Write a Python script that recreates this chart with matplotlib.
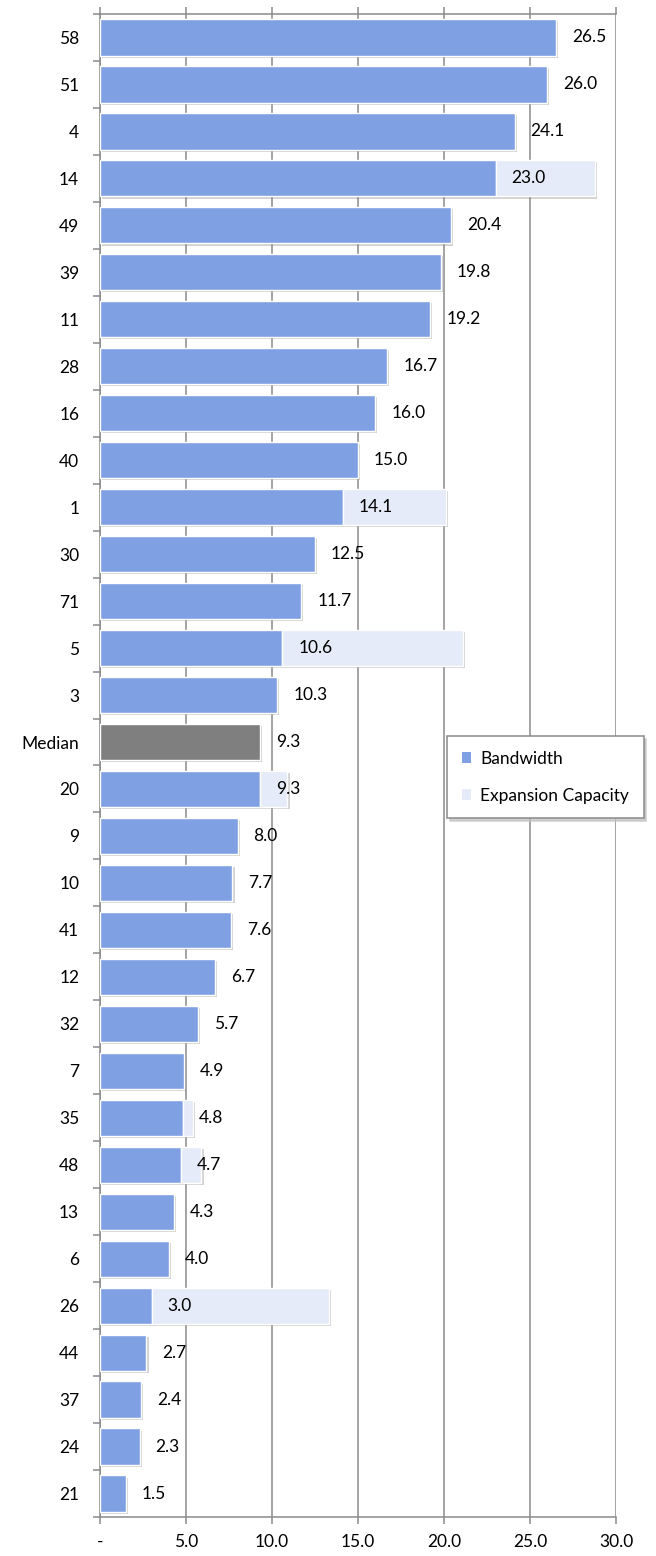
import matplotlib
matplotlib.use("Agg")
import matplotlib.pyplot as plt
import matplotlib.patheffects as pe
from matplotlib.patches import Patch
import numpy as np

categories = ["58", "51", "4", "14", "49", "39", "11", "28", "16", "40", "1", "30",
              "71", "5", "3", "Median", "20", "9", "10", "41", "12", "32", "7", "35",
              "48", "13", "6", "26", "44", "37", "24", "21"]
bandwidth = [26.5, 26.0, 24.1, 23.0, 20.4, 19.8, 19.2, 16.7, 16.0, 15.0, 14.1, 12.5,
             11.7, 10.6, 10.3, 9.3, 9.3, 8.0, 7.7, 7.6, 6.7, 5.7, 4.9, 4.8,
             4.7, 4.3, 4.0, 3.0, 2.7, 2.4, 2.3, 1.5]
expansion = [0, 0, 0, 5.8, 0, 0, 0, 0, 0, 0, 6.0, 0,
             0, 10.5, 0, 0, 1.6, 0, 0, 0, 0, 0, 0, 0.6,
             1.2, 0, 0, 10.3, 0, 0, 0, 0]
xticks = [0, 5, 10, 15, 20, 25, 30]
xticklabels = ["-", "5.0", "10.0", "15.0", "20.0", "25.0", "30.0"]

plt.rcParams['font.family'] = ['Lato', 'DejaVu Sans']

BLUE = "#7FA1E3"
LIGHT = "#E5EBF8"
GRAY = "#7F7F7F"
GRID = "#8A8A8A"
FS = 12.5

fig = plt.figure(figsize=(6.56, 15.56), dpi=100)
ax = fig.add_axes([100/656, 39/1556, 516/656, 1503/1556])

y = np.arange(len(categories))
shadow = [pe.SimplePatchShadow(offset=(1.5, -1.5), shadow_rgbFace='#808080', alpha=0.35), pe.Normal()]

colors = [GRAY if c == "Median" else BLUE for c in categories]
bars = ax.barh(y, bandwidth, height=0.77, color=colors, edgecolor="white", linewidth=1.0, zorder=3)
for b in bars:
    b.set_path_effects(shadow)
exp_bars = ax.barh(y, expansion, left=bandwidth, height=0.77, color=LIGHT,
                   edgecolor="white", linewidth=1.0, zorder=3)
for b, e in zip(exp_bars, expansion):
    if e > 0:
        b.set_path_effects(shadow)
    else:
        b.set_visible(False)

for yi, v in zip(y, bandwidth):
    ax.annotate(f"{v:.1f}", xy=(v, yi), xytext=(11.5, 0), textcoords="offset points",
                ha="left", va="center", fontsize=FS, color="black", zorder=5)

ax.set_xlim(0, 30)
ax.set_ylim(len(categories) - 0.5, -0.5)
ax.set_xticks(xticks)
ax.set_xticklabels(xticklabels, fontsize=FS)
ax.set_yticks(y)
ax.set_yticklabels(categories, fontsize=FS)
ax.set_yticks(np.arange(-0.5, len(categories), 1), minor=True)

ax.grid(axis="x", color=GRID, linewidth=1.1, zorder=0)
ax.set_axisbelow(True)

for s in ["top", "bottom", "left"]:
    ax.spines[s].set_color(GRID)
    ax.spines[s].set_linewidth(1.1)
ax.spines["right"].set_visible(False)

ax.tick_params(axis="x", which="major", direction="out", length=5, width=1.1, color=GRID,
               top=True, bottom=True, labeltop=False, pad=7)
ax.tick_params(axis="y", which="major", length=0, pad=15)
ax.tick_params(axis="y", which="minor", direction="out", length=5, width=1.1, color=GRID)

handles = [Patch(facecolor=BLUE, edgecolor="none"), Patch(facecolor=LIGHT, edgecolor="none")]
leg = fig.legend(handles, ["Bandwidth", "Expansion Capacity"],
                 loc="upper left", bbox_to_anchor=(447/656, 1 - 736/1556),
                 fontsize=FS, frameon=True, fancybox=False,
                 shadow={'color': '#bfbfbf', 'alpha': 0.7},
                 handlelength=0.55, handleheight=0.55, handletextpad=0.5,
                 labelspacing=1.2, borderpad=0.85, borderaxespad=0)
leg.get_frame().set_edgecolor(GRID)
leg.get_frame().set_linewidth(1.1)

fig.savefig("out.png", dpi=100)
